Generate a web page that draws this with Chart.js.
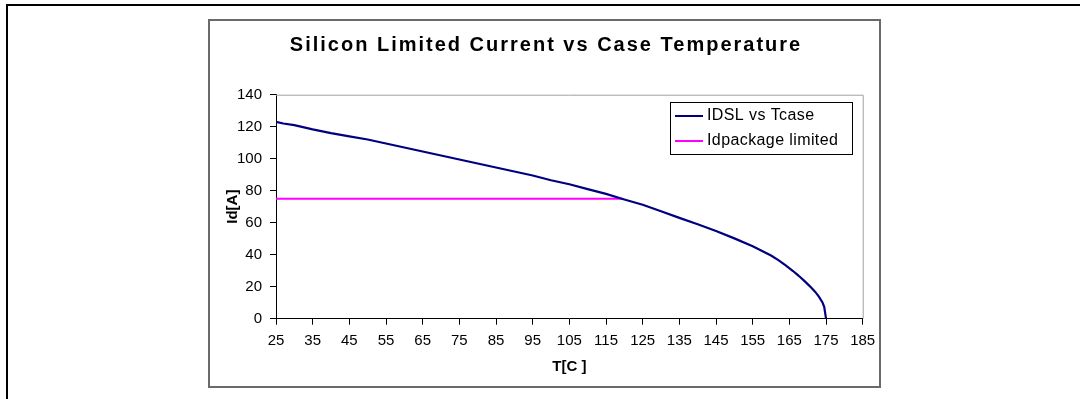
<!DOCTYPE html>
<html><head><meta charset="utf-8">
<script src="https://cdn.jsdelivr.net/npm/chart.js@4.4.1/dist/chart.umd.min.js"></script>
<style>html,body{margin:0;padding:0;background:#fff;}#wrap{position:relative;width:1080px;height:399px;}</style>
</head><body><div id="wrap"><canvas id="c" width="1080" height="399"></canvas></div>
<script>
const chartTitle = 'Silicon Limited Current vs Case Temperature';
const xAxisTitle = 'T[C ]';
const yAxisTitle = 'Id[A]';
const seriesNames = ['IDSL vs Tcase', 'Idpackage limited'];
const caseTemp = [25,27,30,35,40,45,50,55,60,65,70,75,80,85,90,95,100,105,110,115,120,125,130,135,140,145,150,155,160,162,164,166,167,168,169,170,171,172,173,174,174.5,175];
const idsl     = [123,122,121,118.3,116,114,112,109.5,107,104.5,102,99.5,97,94.5,92,89.5,86.5,84,81,78,74.5,71.2,67.2,63,59,54.8,50.2,45.3,39.5,36.6,33.4,29.8,27.9,25.9,23.8,21.6,19.4,16.9,14,10.3,7.4,0];
const packageTemp  = [25, 119.5];
const packageLimit = [75, 75];
const xTicks = [25,35,45,55,65,75,85,95,105,115,125,135,145,155,165,175,185];
const yTicks = [0,20,40,60,80,100,120,140];

const FONT = "'Liberation Sans', Arial, sans-serif";

const framePlugin = {
  id: 'frame',
  beforeDraw(chart) {
    const ctx = chart.ctx;
    ctx.save();
    ctx.fillStyle = '#fff';
    ctx.fillRect(0, 0, chart.width, chart.height);
    // outer page frame
    ctx.strokeStyle = '#000';
    ctx.lineWidth = 2;
    ctx.beginPath();
    ctx.moveTo(7, 400); ctx.lineTo(7, 5); ctx.lineTo(1081, 5);
    ctx.stroke();
    // chart box
    ctx.strokeStyle = '#6a6a6a';
    ctx.lineWidth = 2;
    ctx.strokeRect(209, 20, 671, 367);
    // chart title
    ctx.fillStyle = '#000';
    ctx.font = 'bold 20px ' + FONT;
    ctx.textBaseline = 'middle';
    ctx.textAlign = 'left';
    if ('letterSpacing' in ctx) ctx.letterSpacing = '2px';
    const w = ctx.measureText(chartTitle).width - 2;
    ctx.fillText(chartTitle, 545 - w / 2, 45);
    if ('letterSpacing' in ctx) ctx.letterSpacing = '0px';
    ctx.restore();
  },
  afterDatasetsDraw(chart) {
    const ctx = chart.ctx, a = chart.chartArea;
    ctx.save();
    ctx.strokeStyle = '#a0a0a0';
    ctx.lineWidth = 1;
    ctx.beginPath();
    ctx.moveTo(a.left, a.top + 0.5); ctx.lineTo(a.right + 0.5, a.top + 0.5); ctx.lineTo(a.right + 0.5, a.bottom);
    ctx.stroke();
    // legend
    const lx = 670, ly = 102, lw = 182, lh = 52;
    ctx.fillStyle = '#fff';
    ctx.fillRect(lx, ly, lw, lh);
    ctx.strokeStyle = '#000';
    ctx.strokeRect(lx + 0.5, ly + 0.5, lw, lh);
    ctx.font = '16px ' + FONT;
    ctx.textBaseline = 'middle';
    if ('letterSpacing' in ctx) ctx.letterSpacing = '0.4px';
    chart.data.datasets.forEach((ds, i) => {
      const y = ly + 14 + i * 25;
      ctx.strokeStyle = ds.borderColor;
      ctx.lineWidth = 2;
      ctx.beginPath(); ctx.moveTo(lx + 5, y); ctx.lineTo(lx + 33, y); ctx.stroke();
      ctx.fillStyle = '#000';
      ctx.fillText(ds.label, lx + 37, y);
    });
    if ('letterSpacing' in ctx) ctx.letterSpacing = '0px';
    ctx.restore();
  }
};

new Chart(document.getElementById('c'), {
  type: 'scatter',
  data: {
    datasets: [
      { label: seriesNames[0], data: caseTemp.map((t, i) => ({x: t, y: idsl[i]})), showLine: true, borderColor: '#000080', borderWidth: 2.2, pointRadius: 0, tension: 0 },
      { label: seriesNames[1], data: packageTemp.map((t, i) => ({x: t, y: packageLimit[i]})), showLine: true, borderColor: '#ff00ff', borderWidth: 2, pointRadius: 0, tension: 0 }
    ]
  },
  options: {
    responsive: false, animation: false, devicePixelRatio: 1,
    layout: { padding: { left: 209, top: 94.7, right: 217.3, bottom: 12 } },
    plugins: {
      legend: { display: false }, tooltip: { enabled: false }, title: { display: false }
    },
    scales: {
      x: {
        type: 'linear', min: 25, max: 185,
        afterBuildTicks: s => { s.ticks = xTicks.map(v => ({ value: v })); },
        ticks: { color: '#000', font: { family: FONT, size: 15 }, padding: 7, maxRotation: 0, autoSkip: false },
        grid: { drawOnChartArea: false, tickLength: 6, color: '#000' },
        border: { color: '#000', width: 1 },
        title: { display: true, text: xAxisTitle, color: '#000', font: { family: FONT, size: 15, weight: 'bold' }, padding: { top: 0, bottom: 11 } },
        afterFit: s => { s.height = 68.3; }
      },
      y: {
        min: 0, max: 140,
        afterBuildTicks: s => { s.ticks = yTicks.map(v => ({ value: v })); },
        ticks: { color: '#000', font: { family: FONT, size: 15 }, padding: 8 },
        grid: { drawOnChartArea: false, tickLength: 6, color: '#000' },
        border: { color: '#000', width: 1 },
        title: { display: true, text: yAxisTitle, color: '#000', font: { family: FONT, size: 15, weight: 'bold' }, padding: { top: 15, bottom: 0 } },
        afterFit: s => { s.width = 67; }
      }
    }
  },
  plugins: [framePlugin]
});
</script>
</body></html>
